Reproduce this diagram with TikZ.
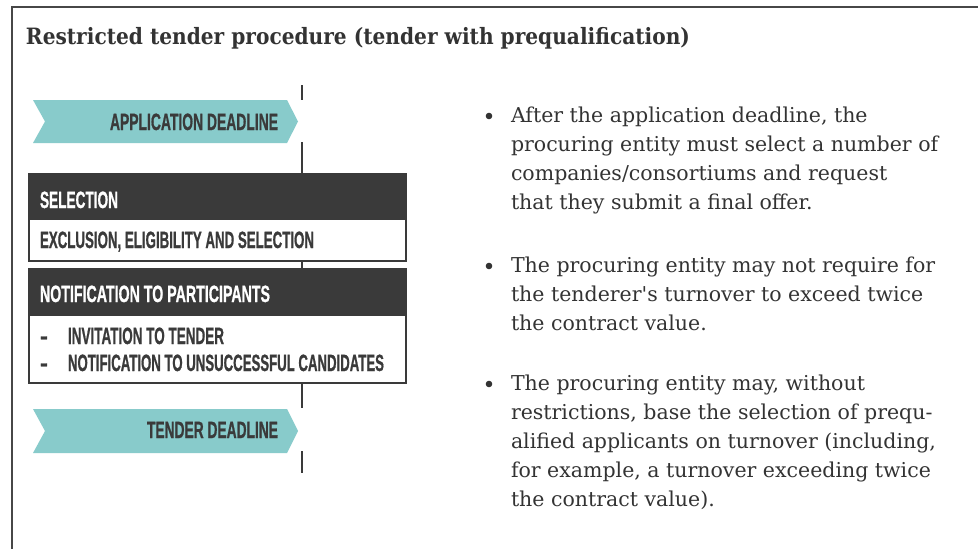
\documentclass[tikz,border=0pt]{standalone}
\usepackage{graphicx}
\usepackage{fontspec}
\setmainfont{DejaVu Serif}
\newfontfamily\titlefont{DejaVu Serif}
\newfontfamily\capsfont[FakeBold=1.2]{Liberation Sans}

\definecolor{inkdark}{HTML}{3A3A3A}
\definecolor{bodyink}{HTML}{333333}
\definecolor{framegray}{HTML}{474747}
\definecolor{deadlineteal}{HTML}{88CBCB}

% set a text at its natural height, stretched or squeezed to a given width
\newsavebox\fitbox
\newlength\fitlen
\newcommand\fitw[2]{\sbox\fitbox{#2}\setlength\fitlen{\wd\fitbox}%
  \pgfmathsetmacro\fitscale{#1/\fitlen}\scalebox{\fitscale}[1]{\usebox\fitbox}}

\begin{document}
\begin{tikzpicture}[x=1pt,y=-1pt,
  every node/.style={inner sep=0pt,outer sep=0pt},
  frameline/.style={draw=framegray,line width=2.2pt},
  timeline/.style={draw=inkdark,line width=2pt},
  headbox/.style={fill=inkdark,draw=inkdark,line width=1.6pt,anchor=north west,minimum width=377,text width=0pt},
  bodybox/.style={fill=white,draw=inkdark,line width=1.8pt,anchor=north west,minimum width=377,text width=0pt},
  deadline/.style={fill=deadlineteal},
  capsdark/.style={anchor=base west,text=inkdark,font=\capsfont\bfseries\fontsize{23.5}{24}\selectfont},
  capslight/.style={capsdark,text=white},
  titletext/.style={anchor=base west,text=bodyink,font=\titlefont\bfseries\fontsize{22.5}{26}\selectfont},
  bodytext/.style={anchor=base west,text=bodyink,font=\fontsize{20.5}{29}\selectfont},
  bulletdot/.style={circle,fill=bodyink,minimum size=6.6}]

\useasboundingbox (0,0) rectangle (978,549);
\clip (0,0) rectangle (978,549);
\fill[white] (0,0) rectangle (978,549);

% outer frame, running past the right and bottom edges
\draw[frameline] (12,600) -- (12,7) -- (1000,7);

% title
\node[titletext] (title) at (26,44.5)
  {\fitw{664}{Restricted tender procedure (tender with prequalification)}};

% deadline banners
\fill[deadline] (33,100) -- (287,100) -- (298,121.5) -- (287,143) -- (33,143) -- (45,121.5) -- cycle;
\fill[deadline] (33,409) -- (287,409) -- (298,431) -- (287,453) -- (33,453) -- (45,431) -- cycle;
\node[capsdark,anchor=base east] (appdl) at (278,130) {\fitw{168}{APPLICATION DEADLINE}};
\node[capsdark,anchor=base east] (tenddl) at (278,438) {\fitw{131}{TENDER DEADLINE}};

% selection stage
\node[headbox,minimum height=45] (selhead) at (29,174) {};
\node[bodybox,minimum height=42] (selbody) at (29,219) {};
\node[capslight] (seltxt) at (40,208) {\fitw{78}{SELECTION}};
\node[capsdark] (seldetail) at (40,248) {\fitw{274}{EXCLUSION, ELIGIBILITY AND SELECTION}};

% notification stage
\node[headbox,minimum height=46] (nothead) at (29,269) {};
\node[bodybox,minimum height=68] (notbody) at (29,315) {};
\node[capslight] (nottxt) at (40,302) {\fitw{230}{NOTIFICATION TO PARTICIPANTS}};
\node[capsdark] (dash1) at (40,344) {-};
\node[capsdark] (invite) at (68,344) {\fitw{156}{INVITATION TO TENDER}};
\node[capsdark] (dash2) at (40,371) {-};
\node[capsdark] (unsucc) at (68,371) {\fitw{316}{NOTIFICATION TO UNSUCCESSFUL CANDIDATES}};

% time line through the stages
\coordinate (t0) at (302,85);
\coordinate (t1) at (302,100);
\coordinate (t2) at (302,142);
\coordinate (t3) at (302,408);
\coordinate (t4) at (302,451);
\coordinate (t5) at (302,473);
\draw[timeline] (t0) -- (t1);
\draw[timeline] (t2) -- (t2 |- selhead.north);
\draw[timeline] (t2 |- selbody.south) -- (t2 |- nothead.north);
\draw[timeline] (t2 |- notbody.south) -- (t3);
\draw[timeline] (t4) -- (t5);

% notes
\node[bulletdot] (dot1) at (489,116) {};
\foreach \ln [count=\k from 0] in {{After the application deadline, the},
  {procuring entity must select a number of},
  {companies/consortiums and request},
  {that they submit a final offer.}}
  \node[bodytext] (noteA\k) at (511,{122+29*\k}) {\ln};

\node[bulletdot] (dot2) at (489,266) {};
\foreach \ln [count=\k from 0] in {{The procuring entity may not require for},
  {the tenderer\textquotesingle s turnover to exceed twice},
  {the contract value.}}
  \node[bodytext] (noteB\k) at (511,{272+29*\k}) {\ln};

\node[bulletdot] (dot3) at (489,384) {};
\foreach \ln [count=\k from 0] in {{The procuring entity may, without},
  {restrictions, base the selection of prequ-},
  {alified applicants on turnover (including,},
  {for example, a turnover exceeding twice},
  {the contract value).}}
  \node[bodytext] (noteC\k) at (511,{390+29*\k}) {\ln};
\end{tikzpicture}
\end{document}
